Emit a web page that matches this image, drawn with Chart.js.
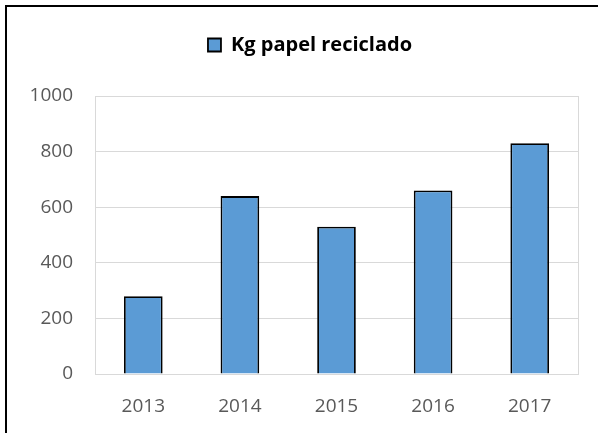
<!DOCTYPE html>
<html>
<head>
<meta charset="utf-8">
<script src="https://cdn.jsdelivr.net/npm/chart.js@4/dist/chart.umd.min.js"></script>
<style>
  body { margin: 0; background: #fff; overflow: hidden; }
</style>
</head>
<body>
<canvas id="myChart" width="598" height="433"></canvas>
<script>
// Kg papel reciclado por año
const years = ['2013', '2014', '2015', '2016', '2017'];
const kgPapel = [280, 640, 530, 660, 830];
const yTicks = [0, 200, 400, 600, 800, 1000];

const ctx = document.getElementById('myChart').getContext('2d');

// borde gris alrededor del área de trazado + marco negro del gráfico
const plotBorder = {
    id: 'plotBorder',
    beforeInit(chart) {
        const legend = chart.legend;
        // espacio extra debajo de la leyenda
        const fit = legend.fit;
        legend.fit = function () {
            fit.call(legend);
            this.height += 31;
        };
        // leyenda un poco a la derecha, como en Excel
        const draw = legend.draw;
        legend.draw = function () {
            const c = this.ctx;
            c.save();
            c.translate(21, 0);
            draw.call(legend);
            c.restore();
        };
    },
    afterDraw(chart) {
        const a = chart.chartArea;
        const c = chart.ctx;
        c.save();
        c.strokeStyle = '#d9d9d9';
        c.lineWidth = 1;
        c.strokeRect(a.left + 0.5, a.top + 0.5, a.right - a.left, a.bottom - a.top);
        c.strokeStyle = '#000';
        c.lineWidth = 2;
        c.beginPath();
        c.moveTo(6, chart.height);
        c.lineTo(6, 6);
        c.lineTo(chart.width, 6);
        c.stroke();
        c.restore();
    }
};

let myChart = new Chart(ctx, {
    type: 'bar',
    data: {
        labels: years,
        datasets: [{
            label: 'Kg papel reciclado',
            data: kgPapel,
            backgroundColor: '#5b9bd5',
            borderColor: '#000',
            borderWidth: 1.8,
            barPercentage: 0.4,
            categoryPercentage: 1
        }]
    },
    options: {
        responsive: false,
        devicePixelRatio: 1,
        animation: false,
        layout: {
            padding: { top: 25, right: 20, left: 0, bottom: 0 }
        },
        plugins: {
            legend: {
                position: 'top',
                labels: {
                    boxWidth: 13,
                    boxHeight: 13,
                    color: '#000',
                    padding: 10,
                    font: { family: 'Open Sans', size: 20, weight: 'bold' }
                }
            },
            tooltip: { enabled: false }
        },
        scales: {
            y: {
                min: 0,
                max: 1000,
                afterBuildTicks: (scale) => {
                    scale.ticks = yTicks.map(v => ({ value: v }));
                },
                afterFit: (scale) => { scale.width = 95; },
                border: { display: false },
                grid: { color: '#d9d9d9', drawTicks: false },
                ticks: {
                    color: '#595959',
                    padding: 22,
                    callback: (v) => String(v),
                    font: { family: 'Open Sans', size: 19 }
                }
            },
            x: {
                afterFit: (scale) => { scale.height = 59; },
                border: { display: false },
                grid: { display: false, drawTicks: false },
                ticks: {
                    color: '#595959',
                    padding: 21,
                    font: { family: 'Open Sans', size: 19 }
                }
            }
        }
    },
    plugins: [plotBorder]
});
</script>
</body>
</html>
